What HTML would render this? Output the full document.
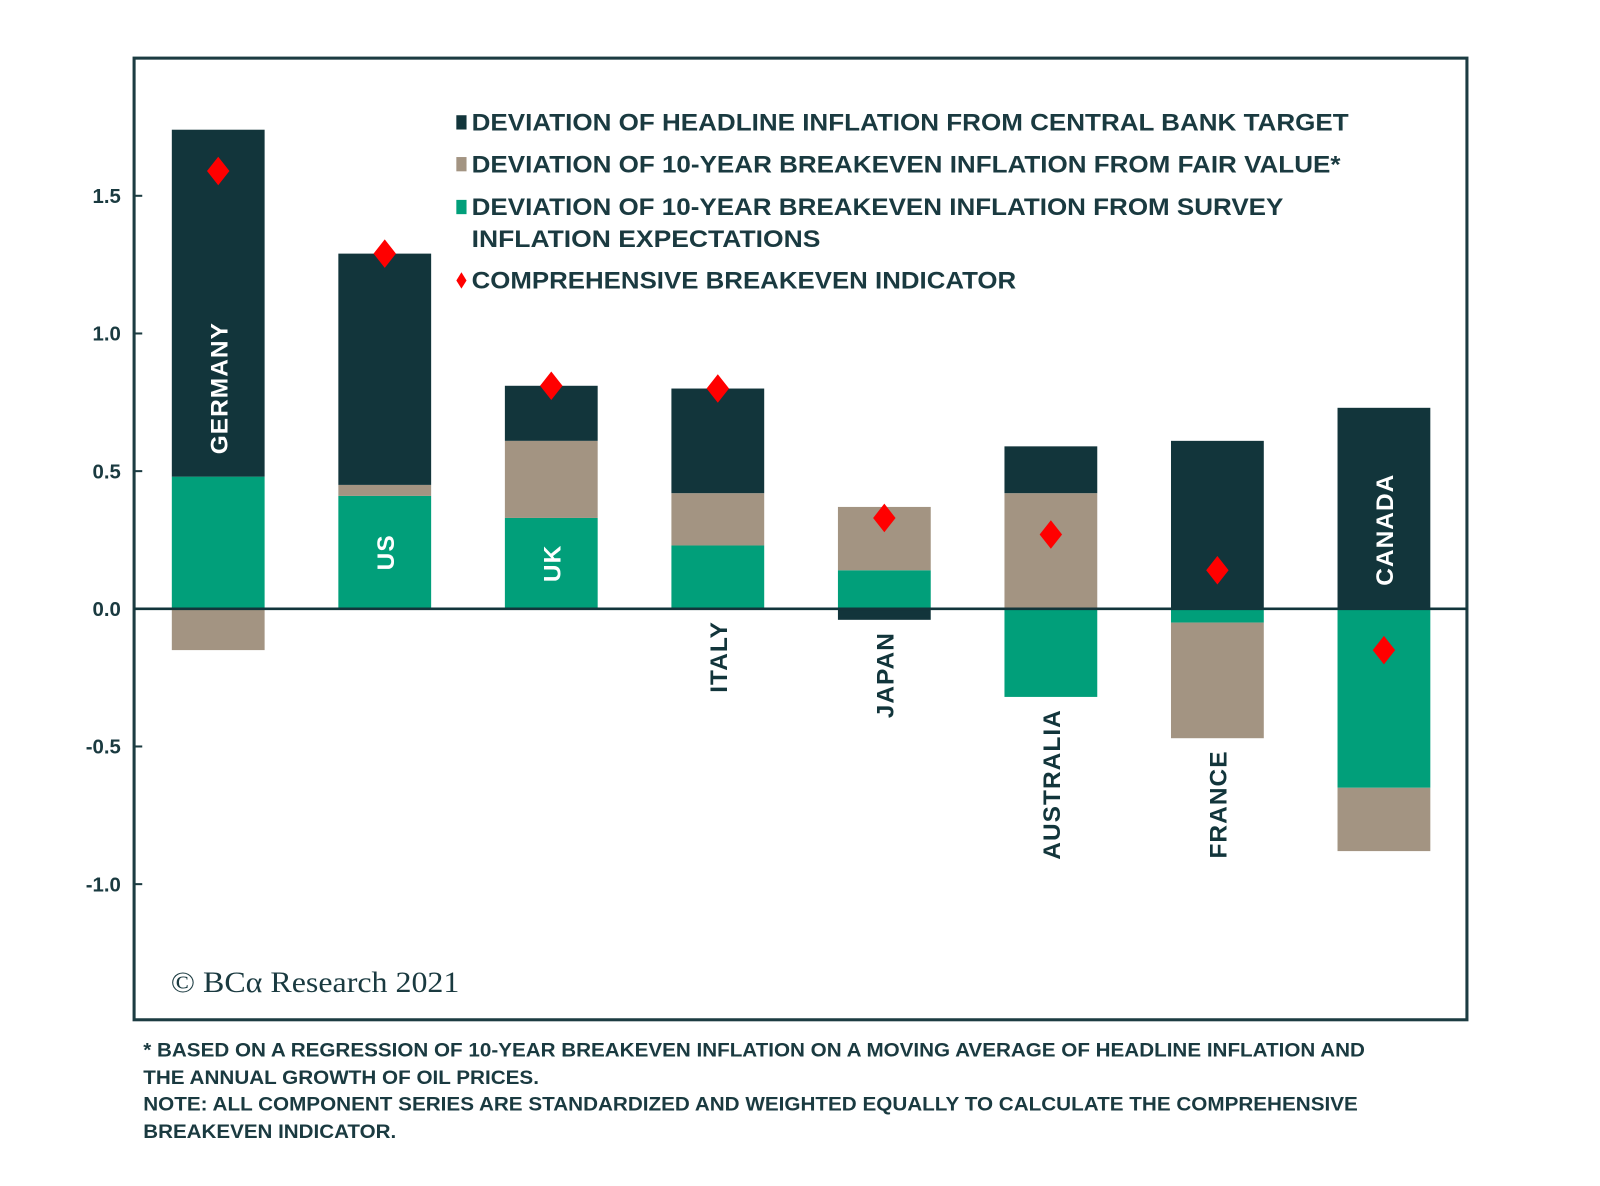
<!DOCTYPE html>
<html><head><meta charset="utf-8"><style>
html,body{margin:0;padding:0;background:#fff;}
svg{display:block;}
</style></head><body>
<svg id="chart" width="1600" height="1186" viewBox="0 0 1568 1163" font-family="Liberation Sans, sans-serif" xmlns="http://www.w3.org/2000/svg">
<rect x="131" y="57" width="1307" height="943" fill="none" stroke="#1c3c42" stroke-width="3"/>
<g id="bars"></g>
<g id="yaxis"></g>
<line x1="131" x2="1438" y1="597" y2="597" stroke="#12353b" stroke-width="2.5"/>
<g id="labels"></g>
<g id="markers"></g>
<g font-weight="bold" font-size="24" fill="#1a3a40">
 <rect x="447" y="113" width="10" height="14" fill="#12353b"/>
 <text x="462" y="128" textLength="860" lengthAdjust="spacingAndGlyphs">DEVIATION OF HEADLINE INFLATION FROM CENTRAL BANK TARGET</text>
 <rect x="447" y="154" width="10" height="14" fill="#a39482"/>
 <text x="462" y="169" textLength="852" lengthAdjust="spacingAndGlyphs">DEVIATION OF 10-YEAR BREAKEVEN INFLATION FROM FAIR VALUE*</text>
 <rect x="447" y="196" width="10" height="14" fill="#019f7a"/>
 <text x="462" y="211" textLength="796" lengthAdjust="spacingAndGlyphs">DEVIATION OF 10-YEAR BREAKEVEN INFLATION FROM SURVEY</text>
 <text x="462" y="242" textLength="342" lengthAdjust="spacingAndGlyphs">INFLATION EXPECTATIONS</text>
 <polygon points="452,267 457,275 452,283 447,275" fill="#ff0000"/>
 <text x="462" y="283" textLength="534" lengthAdjust="spacingAndGlyphs">COMPREHENSIVE BREAKEVEN INDICATOR</text>
</g>
<text x="167" y="973" style="font-family:'Liberation Serif',serif" font-size="29" fill="#1a3a40" textLength="283" lengthAdjust="spacingAndGlyphs">© BCα Research 2021</text>
<g font-weight="bold" font-size="19" fill="#1a3a40">
 <text x="140" y="1036" textLength="1198" lengthAdjust="spacingAndGlyphs">* BASED ON A REGRESSION OF 10-YEAR BREAKEVEN INFLATION ON A MOVING AVERAGE OF HEADLINE INFLATION AND</text>
 <text x="140" y="1063" textLength="388" lengthAdjust="spacingAndGlyphs">THE ANNUAL GROWTH OF OIL PRICES.</text>
 <text x="140" y="1089" textLength="1191" lengthAdjust="spacingAndGlyphs">NOTE: ALL COMPONENT SERIES ARE STANDARDIZED AND WEIGHTED EQUALLY TO CALCULATE THE COMPREHENSIVE</text>
 <text x="140" y="1116" textLength="248" lengthAdjust="spacingAndGlyphs">BREAKEVEN INDICATOR.</text>
</g>
</svg>
<script>
const countries = ["GERMANY","US","UK","ITALY","JAPAN","AUSTRALIA","FRANCE","CANADA"];
const headline = [1.26, 0.84, 0.20, 0.38, -0.04, 0.17, 0.61, 0.73];
const fairValue = [-0.15, 0.04, 0.28, 0.19, 0.23, 0.42, -0.42, -0.23];
const survey = [0.48, 0.41, 0.33, 0.23, 0.14, -0.32, -0.05, -0.65];
const indicator = [1.59, 1.29, 0.81, 0.80, 0.33, 0.27, 0.14, -0.15];
const yTicks = [1.5, 1.0, 0.5, 0.0, -0.5, -1.0];
const yTickLabels = ["1.5","1.0","0.5","0.0","-0.5","-1.0"];
const insideLabel = [true, true, true, false, false, false, false, true];

const NS = "http://www.w3.org/2000/svg";
const y = v => 597 - v * 270;
const xc = i => 213.5 + i * 163.3;
const BW = 91;
function mk(tag, attrs){const e=document.createElementNS(NS,tag);for(const k in attrs)e.setAttribute(k,attrs[k]);return e;}
const bars=document.getElementById('bars'), yaxis=document.getElementById('yaxis'), labels=document.getElementById('labels'), markers=document.getElementById('markers');

yTicks.forEach((t,i)=>{
  const l=mk('line',{x1:131,x2:139,y1:y(t),y2:y(t),stroke:'#1c3c42','stroke-width':2});
  
  
  yaxis.appendChild(l);
  const tx=mk('text',{x:118,y:y(t)+7,'text-anchor':'end','font-size':20,'font-weight':'bold',fill:'#1a3a40'});
  tx.textContent=yTickLabels[i];
  
  
  yaxis.appendChild(tx);
});

const series=[["survey",survey,"#019f7a"],["fair-value",fairValue,"#a39482"],["headline",headline,"#12353b"]];
const negOrder=[["headline",headline,"#12353b"],["survey",survey,"#019f7a"],["fair-value",fairValue,"#a39482"]];
countries.forEach((c,i)=>{
  let pos=0, neg=0;
  series.forEach(([n,arr,col])=>{ const v=arr[i]; if(v>0){
    const r=mk('rect',{x:xc(i)-BW/2,y:y(pos+v),width:BW,height:v*270,fill:col});
    
    
    bars.appendChild(r); pos+=v; }});
  negOrder.forEach(([n,arr,col])=>{ const v=arr[i]; if(v<0){
    const r=mk('rect',{x:xc(i)-BW/2,y:y(neg),width:BW,height:-v*270,fill:col});
    
    
    bars.appendChild(r); neg+=v; }});
  let ly, anchor, fill;
  if(insideLabel[i]){
    if(c==="GERMANY"){ ly=y(survey[i]+headline[i]*0.255); }
    else if(c==="CANADA"){ ly=y(headline[i]/2)+21; }
    else { ly=y(survey[i]/2); }
    anchor='middle'; fill='#fff';
  } else {
    ly=y(neg)+12; anchor='end'; fill='#12353b';
  }
  const t=mk('text',{x:0,y:0,'text-anchor':anchor,'font-size':24,'font-weight':'bold',fill:fill,'letter-spacing':'1',transform:`translate(${xc(i)+9},${ly}) rotate(-90)`});
  t.textContent=c;
  
  
  labels.appendChild(t);
  const cx=xc(i), cy=y(indicator[i]);
  const d=mk('polygon',{points:`${cx},${cy-14} ${cx+11},${cy} ${cx},${cy+14} ${cx-11},${cy}`,fill:'#ff0000'});
  
  
  markers.appendChild(d);
});
</script>
</body></html>
